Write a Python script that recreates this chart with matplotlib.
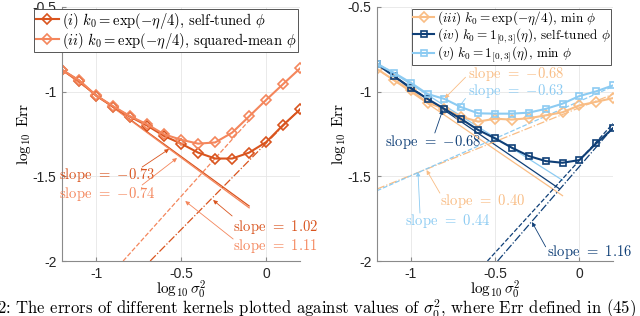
import numpy as np
import matplotlib
matplotlib.use("Agg")
import matplotlib.pyplot as plt

plt.rcParams['mathtext.fontset'] = 'cm'
plt.rcParams['font.family'] = ['Liberation Sans', 'DejaVu Sans']
plt.rcParams['axes.unicode_minus'] = False

# log10 sigma_0^2 grid (shared by all curves)
x = np.round(np.arange(-1.2, 0.21, 0.1), 2)

# left panel
err_i = [-0.872, -0.935, -1.024, -1.089, -1.148, -1.200, -1.262, -1.307,
         -1.360, -1.395, -1.395, -1.360, -1.298, -1.197, -1.105]
err_ii = [-0.872, -0.933, -1.022, -1.086, -1.145, -1.193, -1.252, -1.284,
          -1.307, -1.300, -1.242, -1.146, -1.049, -0.955, -0.862]

# right panel
err_iii = [-0.866, -0.931, -0.992, -1.065, -1.102, -1.148, -1.177, -1.160,
           -1.165, -1.157, -1.140, -1.122, -1.081, -1.060, -1.038]
err_iv = [-0.838, -0.908, -0.980, -1.043, -1.102, -1.162, -1.226, -1.276,
          -1.331, -1.380, -1.410, -1.420, -1.404, -1.305, -1.216]
err_v = [-0.838, -0.888, -0.947, -1.014, -1.043, -1.092, -1.128, -1.130,
         -1.130, -1.124, -1.102, -1.071, -1.026, -0.998, -0.963]

c_i = '#d9541e'
c_ii = '#f4865c'
c_iii = '#f9bd85'
c_iv = '#0f3f77'
c_v = '#8ccbf2'

# fitted lines: (x start, x end, y at start, slope, style, colour)
fits_left = [
    (-1.2, -0.1, -0.872, -0.73, '-', c_i),
    (-1.2, -0.1, -0.872, -0.74, '-', c_ii),
    (-0.682, 0.2, -2.0, 1.02, '-.', c_i),
    (-0.841, -0.1, -2.0, 1.12, '--', c_ii),
]
fits_right = [
    (-1.2, -0.1, -0.866, -0.68, '-', c_iii),
    (-1.2, -0.1, -0.830, -0.63, '-', c_v),
    (-1.2, -0.12, -0.838, -0.68, '-', c_iv),
    (-1.2, 0.2, -1.575, 0.40, '-.', c_iii),
    (-1.2, 0.2, -1.585, 0.44, '--', c_v),
    (-0.485, 0.2, -2.0, 1.15, '-.', c_iv),
    (-0.545, 0.2, -2.0, 1.09, '--', c_iv),
]

# slope labels: (slope text, text x, text y, arrow tail, arrow head, colour)
notes_left = [
    ('-0.73', -1.218, -1.492, (-0.729, -1.445), (-0.571, -1.339), c_i),
    ('-0.74', -1.218, -1.605, (-0.729, -1.551), (-0.524, -1.392), c_ii),
    ('1.02', -0.194, -1.799, (-0.200, -1.734), (-0.312, -1.640), c_i),
    ('1.11', -0.194, -1.912, (-0.194, -1.870), (-0.476, -1.646), c_ii),
]
notes_right = [
    ('-0.68', -0.663, -0.893, (-0.675, -0.915), (-0.798, -1.039), c_iii),
    ('-0.63', -0.663, -0.995, (-0.675, -1.040), (-0.728, -1.108), c_v),
    ('-0.68', -1.151, -1.297, (-0.857, -1.244), (-0.810, -1.108), c_iv),
    ('0.40', -0.827, -1.646, (-0.827, -1.599), (-0.906, -1.463), c_iii),
    ('0.44', -1.034, -1.764, (-0.945, -1.717), (-0.957, -1.473), c_v),
    ('1.16', -0.192, -1.947, (-0.200, -1.916), (-0.281, -1.770), c_iv),
]

fig = plt.figure(figsize=(6.4, 3.16), dpi=100)
axL = fig.add_axes([0.097, 0.174, 0.372, 0.804])
axR = fig.add_axes([0.589, 0.174, 0.369, 0.804])

serif = 'cmr10'


def style_axes(ax):
    ax.set_xlim(-1.2, 0.2)
    ax.set_ylim(-2, -0.5)
    ax.set_xticks([-1, -0.5, 0])
    ax.set_xticklabels(['-1', '-0.5', '0'])
    ax.set_yticks([-2, -1.5, -1, -0.5])
    ax.set_yticklabels(['-2', '-1.5', '-1', '-0.5'])
    ax.grid(True, color='#e6e6e6', lw=0.6)
    ax.set_axisbelow(True)
    for s in ['top', 'right']:
        ax.spines[s].set_visible(False)
    for s in ['left', 'bottom']:
        ax.spines[s].set_color('#8a8a8a')
        ax.spines[s].set_linewidth(0.8)
    ax.tick_params(direction='in', length=3, color='#8a8a8a', labelsize=10,
                   labelcolor='#262626', pad=4)
    ax.set_xlabel(r'$\log_{10}\sigma_0^2$', fontsize=11, labelpad=-1)
    ax.set_ylabel(r'$\log_{10}\ \mathrm{Err}$', fontsize=11, labelpad=0)


def draw_fits(ax, fits):
    for x0, x1, y0, k, ls, col in fits:
        xs = np.array([x0, x1])
        ax.plot(xs, y0 + k * (xs - x0), ls=ls, color=col, lw=0.9)


def draw_notes(ax, notes):
    for val, tx, ty, tail, head, col in notes:
        ax.text(tx, ty, 'slope $=$ $' + val + '$', color=col, fontsize=10.5,
                family=serif, ha='left', va='center')
        ax.annotate('', xy=head, xytext=tail,
                    arrowprops=dict(arrowstyle='-|>', color=col, lw=0.6,
                                    mutation_scale=6, shrinkA=0, shrinkB=0))


def add_legend(ax, size, spacing, pad):
    lg = ax.legend(loc='upper right', prop={'family': serif, 'size': size},
                   fancybox=False, edgecolor='#555555', framealpha=1,
                   handlelength=1.6, handletextpad=0.2, borderpad=pad,
                   labelspacing=spacing, borderaxespad=0.15)
    lg.get_frame().set_linewidth(0.7)


style_axes(axL)
draw_fits(axL, fits_left)
axL.plot(x, err_i, '-D', color=c_i, lw=1.5, ms=5, mfc='none', mew=1.2,
         label=r'$(i)\ k_0=\exp(-\eta/4)$, self-tuned $\phi$')
axL.plot(x, err_ii, '-D', color=c_ii, lw=1.5, ms=5, mfc='none', mew=1.2,
         label=r'$(ii)\ k_0=\exp(-\eta/4)$, squared-mean $\phi$')
draw_notes(axL, notes_left)
add_legend(axL, 10.5, 0.0, 0.1)

style_axes(axR)
draw_fits(axR, fits_right)
axR.plot(x, err_iii, '-D', color=c_iii, lw=1.5, ms=5, mfc='none', mew=1.2,
         label=r'$(iii)\ k_0=\exp(-\eta/4)$, min $\phi$')
axR.plot(x, err_iv, '-s', color=c_iv, lw=1.5, ms=5, mfc='none', mew=1.2,
         label=r'$(iv)\ k_0=\mathbf{1}_{[0,3]}(\eta)$, self-tuned $\phi$')
axR.plot(x, err_v, '-s', color=c_v, lw=1.5, ms=5, mfc='none', mew=1.2,
         label=r'$(v)\ k_0=\mathbf{1}_{[0,3]}(\eta)$, min $\phi$')
draw_notes(axR, notes_right)
add_legend(axR, 9.5, -0.1, 0.05)

fig.text(-0.004, 0.006,
         r'2: The errors of different kernels plotted against values of '
         r'$\sigma_0^2$, where Err defined in (45)',
         family=serif, fontsize=12, ha='left', va='baseline')

fig.savefig('out.png', dpi=100)
